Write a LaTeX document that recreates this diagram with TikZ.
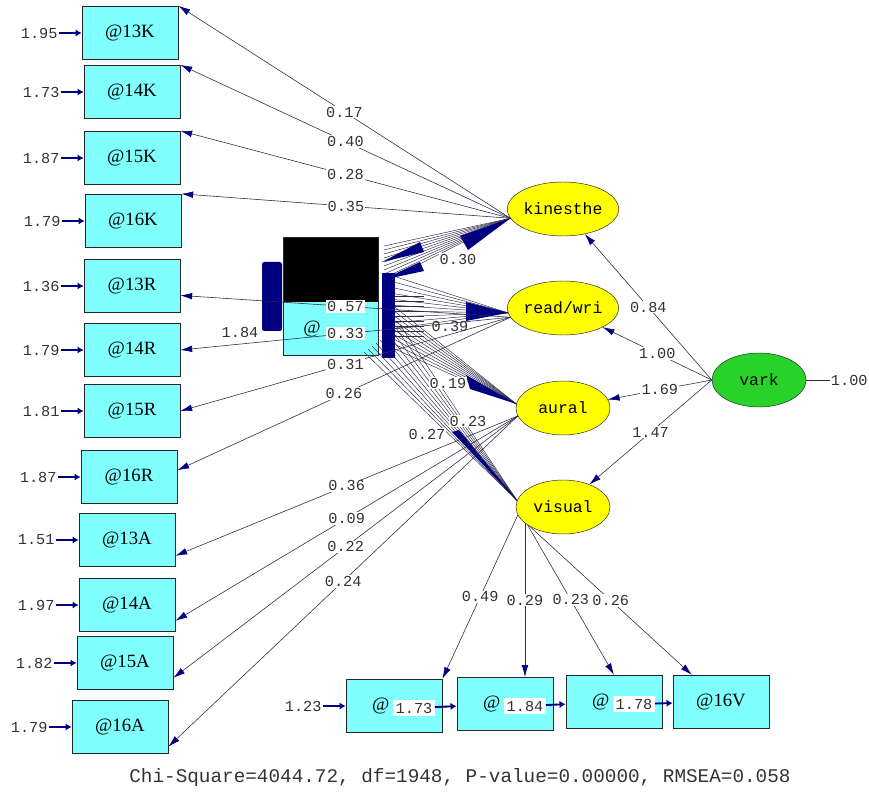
\documentclass[tikz,border=0pt]{standalone}
\usepackage{fontspec}
\setmainfont{Liberation Serif}
\newfontfamily\lismono{Liberation Mono}
\usepackage{xcolor}
\usepackage{tikz}
\usetikzlibrary{positioning, arrows.meta, shapes, calc}

\definecolor{boxcyan}{RGB}{128,255,255}
\definecolor{latyellow}{RGB}{255,255,0}
\definecolor{varkgreen}{RGB}{40,210,40}
\definecolor{tipnavy}{RGB}{0,0,128}
\definecolor{pathgray}{RGB}{45,45,70}

\begin{document}
\begin{tikzpicture}[x=0.03cm, y=-0.03cm,
    obs/.style={draw=black!85, line width=0.8pt, fill=boxcyan, minimum width=2.88cm, minimum height=1.6cm, inner sep=0pt, font=\fontsize{16}{16}\selectfont},
    lat/.style={ellipse, draw=black!85, fill=latyellow, minimum width=2.82cm, minimum height=1.62cm, inner sep=0pt, font=\lismono\fontsize{14}{14}\selectfont},
    coef/.style={fill=white, inner sep=1pt, text=black!80, font=\lismono\fontsize{13}{13}\selectfont},
    errlab/.style={inner sep=1pt, text=black!80, font=\lismono\fontsize{13}{13}\selectfont},
    load/.style={draw=pathgray, line width=0.5pt, -{Latex[length=3.5mm,width=2mm,color=tipnavy]}},
    errarr/.style={draw=tipnavy, line width=1.6pt, -{Latex[length=1.8mm,width=2.2mm]}},
    fan/.style={draw=pathgray, line width=0.4pt}]

    \useasboundingbox (0,0) rectangle (869,794);

    % broken box in the middle
    \fill[boxcyan] (283,302) rectangle (378,355);
    \fill[black] (283,237) rectangle (378,302);
    \draw[black!85, line width=0.8pt] (283,237) rectangle (378,355);

    % indicators on the left
    \foreach \n/\x/\y/\t/\e in {k13/130/33/13K/1.95, k14/132/92/14K/1.73, k15/132/158/15K/1.87, k16/133/221/16K/1.79,
        r13/132/286/13R/1.36, r14/132/350/14R/1.79, r15/132/411/15R/1.81, r16/129/477/16R/1.87,
        a13/127/540/13A/1.51, a14/127/605/14A/1.97, a15/125/663/15A/1.82, a16/120/727/16A/1.79} {
        \node[obs] (\n) at (\x,\y) {@\t};
        \node[errlab, left=0.68cm of \n] (e\n) {\e};
        \draw[errarr] (e\n) -- (\n);
    }

    % indicators at the bottom
    \node[obs] (v13) at (394,706) {@\rule{0.8cm}{0pt}};
    \node[obs] (v14) at (505,704) {@\rule{0.8cm}{0pt}};
    \node[obs] (v15) at (614,702) {@\rule{0.8cm}{0pt}};
    \node[obs] (v16) at (721,702) {@16V};

    % latent variables
    \node[lat] (kin) at (563,209) {kinesthe};
    \node[lat] (rw) at (563,308) {read/wri};
    \node[lat] (aur) at (563,408) {aural};
    \node[lat] (vis) at (563,507) {visual};
    \node[lat, fill=varkgreen] (vark) at (759,380) {vark};

    \node[coef] (c39) at (450,326) {0.39};

    % tangled paths round the middle box
    \foreach \k in {0,...,9} {
        \draw[fan] (384,246+4*\k) -- (kin.190);
        \draw[fan] (390,275+6*\k) -- (rw.185);
        \draw[fan] (386,300+5*\k) -- (aur.175);
        \draw[fan] (364+4*\k,352-3*\k) -- (vis.172);
    }
    \foreach \k in {0,...,8} \draw[fan] (395,296+5*\k) -- (424,296+5*\k);
    \fill[tipnavy] (382,273) rectangle (395,358);
    \fill[tipnavy] (382,262) -- (420,242) -- (424,252) -- cycle;
    \fill[tipnavy] (382,280) -- (420,262) -- (424,271) -- cycle;
    \fill[tipnavy] (kin.190) -- (460,236) -- (468,250) -- cycle;
    \fill[tipnavy] (rw.185) -- (466,302) -- (466,321) -- cycle;
    \fill[tipnavy] (aur.175) -- (466,375) -- (470,389) -- cycle;
    \fill[tipnavy] (vis.172) -- (452,432) -- (459,430) -- cycle;
    \fill[tipnavy, rounded corners=2pt] (262,262) rectangle (282,331);
    \node[errlab] (emid) at (240,332) {1.84};
    \node[font=\fontsize{16}{16}\selectfont, inner sep=0pt] (mid) at (312,329) {@};

    % loadings
    \foreach \b/\a/\v in {k13/north east/0.17, k14/north east/0.40, k15/north east/0.28, k16/north east/0.35}
        \draw[load] (kin.190) -- node[coef] (c\b) {\v} (\b.\a);
    \foreach \b/\a/\v in {r13/349/0.57, r14/east/0.33, r15/east/0.31, r16/8/0.26}
        \draw[load] (rw.190) -- node[coef] (c\b) {\v} (\b.\a);
    \foreach \b/\a/\v in {a13/342/0.36, a14/342/0.09, a15/343/0.22, a16/338/0.24}
        \draw[load] (aur.190) -- node[coef] (c\b) {\v} (\b.\a);
    \draw[load] (vis.190) -- node[coef] (cv13) {0.49} (v13.north east);
    \draw[load] (vis.203) -- node[coef] (cv14) {0.29} (vis.203 |- v14.north);
    \draw[load] (vis.207) -- node[coef] (cv15) {0.23} (v15.north);
    \draw[load] (vis.210) -- node[coef] (cv16) {0.26} ($(v16.north west)!0.2!(v16.north east)$);

    \node[coef] (c30) at (458,259) {0.30};
    \node[coef] (c19) at (448,383) {0.19};
    \node[coef] (c23) at (468,421) {0.23};
    \node[coef] (c27) at (427,434) {0.27};

    % second order paths
    \foreach \l/\v in {kin/0.84, rw/1.00, aur/1.69, vis/1.47}
        \draw[load] (vark.west) -- node[coef] (c\l) {\v} (\l);
    \node[errlab, right=0.7cm of vark] (evark) {1.00};
    \draw[pathgray] (evark) -- (vark);

    % error terms at the bottom
    \node[errlab, left=0.68cm of v13] (ev13) {1.23};
    \draw[errarr] (ev13) -- (v13);
    \foreach \s/\t/\e in {v13/v14/1.73, v14/v15/1.84, v15/v16/1.78} {
        \node[coef, inner sep=2pt] (e\t) at ($(\s.center)+(20,2)$) {\e};
        \draw[errarr] (e\t) -- (\t);
    }

    \node[text=black!80, font=\lismono\fontsize{16.5}{16.5}\selectfont] (fit) at (460,777)
        {Chi-Square=4044.72, df=1948, P-value=0.00000, RMSEA=0.058};
\end{tikzpicture}
\end{document}
